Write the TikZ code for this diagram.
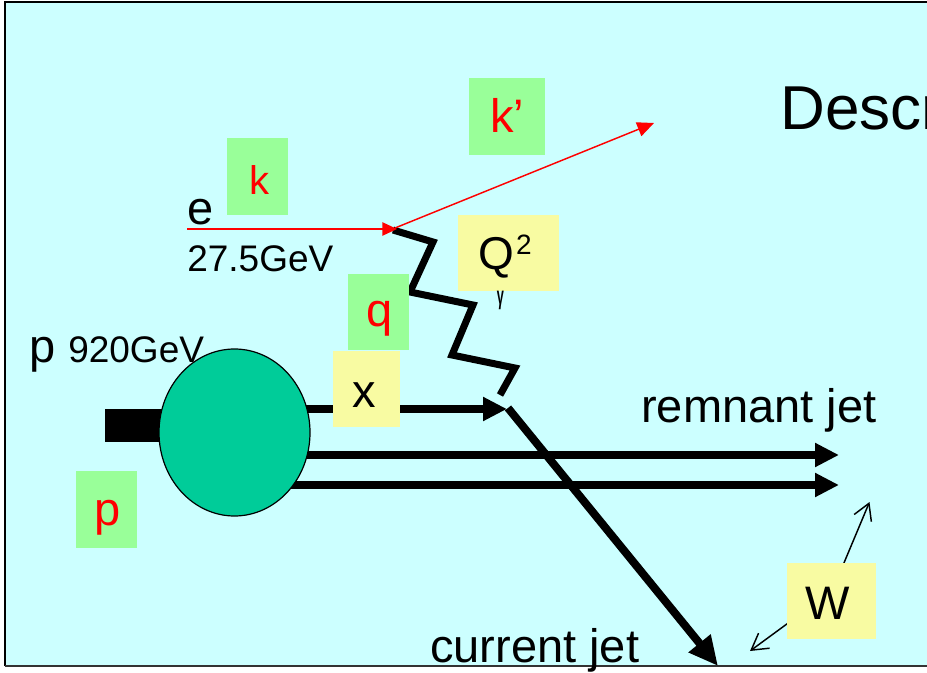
\documentclass[tikz,border=0pt]{standalone}
\usepackage{fontspec}
\setmainfont{Liberation Sans}
\usetikzlibrary{arrows.meta,shapes.geometric}
\definecolor{bgcyan}{HTML}{CCFFFF}
\definecolor{boxgreen}{HTML}{99FF99}
\definecolor{boxyellow}{HTML}{F8FBA2}
\definecolor{blobgreen}{HTML}{00CC99}
\newcommand\pxfont[1]{\fontsize{#1}{#1}\selectfont}
\begin{document}
\begin{tikzpicture}[x=0.75pt,y=-0.75pt,
  gbox/.style={fill=boxgreen,inner sep=0pt,outer sep=0pt},
  ybox/.style={fill=boxyellow,inner sep=0pt,outer sep=0pt},
  lbl/.style={anchor=base,inner sep=0pt},
  big/.style={font=\pxfont{35.25pt}},
  mid/.style={font=\pxfont{27.75pt}},
  thickarrow/.style={line width=6pt,-{Triangle[length=18pt,width=17pt]}},
  redarrow/.style={red,line width=1.1pt},
  thinarrow/.style={line width=1.1pt,-{Straight Barb[length=12pt,width=14pt]}}]
\useasboundingbox (0,0) rectangle (927,673);
\fill[white] (0,0) rectangle (927,673);
\begin{scope}
\clip (0,0) rectangle (927,673);
% slide background and frame
\fill[bgcyan] (5,2) rectangle (940,666);
\draw[line width=1.5pt] (5,666) -- (5,2) -- (940,2);
\draw[line width=1.1pt,black!80] (5,666) -- (940,666);

% title (cut off at the right edge, as in the slide)
\node[anchor=base west,inner sep=0pt,font=\pxfont{46.5pt}] (title) at (780,130) {Descr};

% coordinates
\coordinate (pc) at (234.5,432.5);
\coordinate (qv) at (507,409);
\coordinate (r1s) at (234.5,455);
\coordinate (r1e) at (839,455);
\coordinate (r2s) at (234.5,485);
\coordinate (r2e) at (839,485);
\coordinate (cjs) at (508,408);
\coordinate (cje) at (718,666);
\coordinate (es) at (187,229);
\coordinate (ev) at (397,229);
\coordinate (kv) at (395,228);
\coordinate (kend) at (654,123);

% proton beam bar
\fill (105,409) rectangle (180,442);
% partons out of proton
\draw[thickarrow] (234.5,409) -- (qv);
\draw[thickarrow] (r1s) -- (r1e);
\draw[thickarrow] (r2s) -- (r2e);
% proton blob
\node[ellipse,draw=black,line width=0.9pt,fill=blobgreen,minimum width=113.25pt,minimum height=125.25pt,inner sep=0pt] (proton) at (pc) {};
% current jet
\draw[line width=6pt,-{Triangle[length=22pt,width=20pt]}] (cjs) -- (cje);
% photon
\draw[line width=5.25pt] (393,230) -- (433,242) -- (410,292) -- (473,305) -- (452,355) -- (515,368) -- (500,395);
% electron
\draw[redarrow,-{Triangle[length=11pt,width=10pt]}] (es) -- (ev);
\draw[redarrow,-{Triangle[length=12.5pt,width=11pt]}] (kv) -- (kend);

% boxes
\node[gbox,minimum width=45.75pt,minimum height=57.75pt] (kbox) at (257.5,176.5) {};
\node[gbox,minimum width=57pt,minimum height=57.75pt] (kpbox) at (507,116.5) {};
\node[gbox,minimum width=45.75pt,minimum height=57pt] (qbox) at (378.5,312) {};
\node[gbox,minimum width=45.75pt,minimum height=57.75pt] (pbox) at (106.5,509.5) {};
\node[ybox,minimum width=75.75pt,minimum height=57pt] (Qbox) at (508.5,253) {};
\node[ybox,minimum width=50.25pt,minimum height=57pt] (xbox) at (366.5,389) {};

% W arrows and box
\coordinate (wup) at (869.5,502);
\coordinate (wdn) at (750,651);
\draw[thinarrow] (841,570) -- (wup);
\draw[thinarrow] (795,618) -- (wdn);
\node[ybox,minimum width=66.75pt,minimum height=57pt] (Wbox) at (831.5,601) {};

% box labels
\node[lbl,red,font=\pxfont{30pt}] (kl) at (259,195) {k};
\node[lbl,red,big] (kpl) at (507,133) {k’};
\node[lbl,red,big] (ql) at (380,326) {q};
\node[lbl,red,big] (pl) at (108,525) {p};
\node[lbl,big] (xl) at (364,407) {x};
\node[lbl,big] (Wl) at (828,619) {W};
\node[anchor=base west,inner sep=0pt,font=\pxfont{34.5pt}] (Ql) at (478,270) {Q\kern1.5pt\raisebox{11.25pt}{\pxfont{21pt}2}};
\node[inner sep=0pt,xscale=0.5,font=\bfseries\pxfont{19pt}] (gam) at (500.5,300) {γ};

% plain labels
\node[anchor=base west,inner sep=0pt,big] (el) at (187,225) {e};
\node[anchor=base west,inner sep=0pt,mid] (eE) at (187,272) {27.5GeV};
\node[anchor=base west,inner sep=0pt,big] (pp) at (29,362) {p};
\node[anchor=base west,inner sep=0pt,mid] (pE) at (68,362) {920GeV};
\node[anchor=base west,inner sep=0pt,big] (rj) at (641,422) {remnant jet};
\node[anchor=base west,inner sep=0pt,big] (cj) at (430,662) {current jet};
\end{scope}
\end{tikzpicture}
\end{document}
